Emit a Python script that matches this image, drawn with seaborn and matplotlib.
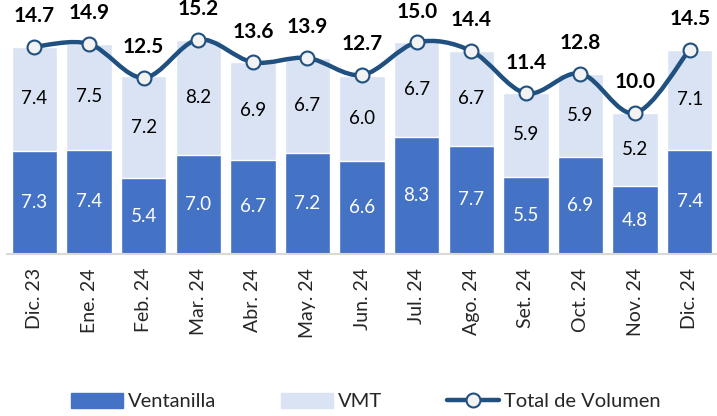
import numpy as np
import matplotlib.pyplot as plt
import seaborn as sns
import pandas as pd
from matplotlib.path import Path
from matplotlib.patches import PathPatch, Patch
from matplotlib.lines import Line2D

meses = ['Dic. 23', 'Ene. 24', 'Feb. 24', 'Mar. 24', 'Abr. 24', 'May. 24', 'Jun. 24',
         'Jul. 24', 'Ago. 24', 'Set. 24', 'Oct. 24', 'Nov. 24', 'Dic. 24']
ventanilla = [7.3, 7.4, 5.4, 7.0, 6.7, 7.2, 6.6, 8.3, 7.7, 5.5, 6.9, 4.8, 7.4]
vmt = [7.4, 7.5, 7.2, 8.2, 6.9, 6.7, 6.0, 6.7, 6.7, 5.9, 5.9, 5.2, 7.1]
total = [14.7, 14.9, 12.5, 15.2, 13.6, 13.9, 12.7, 15.0, 14.4, 11.4, 12.8, 10.0, 14.5]

C_VEN = '#4472C4'
C_VMT = '#DAE3F3'
C_TOT = '#1F5080'


def smooth_path(xs, ys):
    # excel-like smoothed line (catmull-rom as bezier segments)
    p = np.column_stack([xs, ys]).astype(float)
    ext = np.vstack([p[0], p, p[-1]])
    verts = [p[0]]
    codes = [Path.MOVETO]
    for i in range(len(p) - 1):
        p0, p1, p2, p3 = ext[i], ext[i + 1], ext[i + 2], ext[i + 3]
        verts += [p1 + (p2 - p0) / 6, p2 - (p3 - p1) / 6, p2]
        codes += [Path.CURVE4] * 3
    return Path(verts, codes)


def main():
    sns.set_theme(style='white')
    plt.rcParams['font.family'] = ['Lato', 'DejaVu Sans']

    df = pd.DataFrame({'mes': meses, 'ventanilla': ventanilla, 'vmt': vmt, 'total': total})
    df['suma'] = df['ventanilla'] + df['vmt']

    fig = plt.figure(figsize=(7.17, 4.16), dpi=100)
    ax = fig.add_axes([0.01, 0.389, 0.99, 0.592])

    sns.barplot(data=df, x='mes', y='suma', color=C_VMT, saturation=1, width=0.83, ax=ax)
    sns.barplot(data=df, x='mes', y='ventanilla', color=C_VEN, saturation=1, width=0.83, ax=ax)

    x = np.arange(len(meses))
    ax.add_patch(PathPatch(smooth_path(x, df['total']), facecolor='none',
                           edgecolor=C_TOT, lw=3.2, zorder=4, capstyle='round'))
    ax.plot(x, df['total'], linestyle='none', marker='o', markersize=10,
            markerfacecolor='#F2F2F2', markeredgecolor=C_TOT, markeredgewidth=1.5, zorder=5)

    for i in range(len(meses)):
        ax.text(i, df['ventanilla'][i] / 2, '{:.1f}'.format(df['ventanilla'][i]),
                ha='center', va='center', color='white', fontsize=13.5)
        ax.text(i, df['ventanilla'][i] + df['vmt'][i] / 2, '{:.1f}'.format(df['vmt'][i]),
                ha='center', va='center', color='black', fontsize=13.5)
        ax.annotate('{:.1f}'.format(df['total'][i]), (i, df['total'][i]),
                    xytext=(0, 22), textcoords='offset points',
                    ha='center', va='center', fontsize=15, fontweight='bold', color='black')

    ax.set_ylim(0, 17.45)
    ax.set_xlim(-0.5, len(meses) - 0.5)
    ax.set_xlabel('')
    ax.set_ylabel('')
    ax.set_yticks([])
    ax.tick_params(axis='x', labelrotation=90, labelsize=14, length=0, pad=10)
    for s in ['top', 'right', 'left']:
        ax.spines[s].set_visible(False)
    ax.spines['bottom'].set_color('#D9D9D9')
    ax.spines['bottom'].set_linewidth(1.5)

    handles = [Patch(color=C_VEN, label='Ventanilla'),
               Patch(color=C_VMT, label='VMT'),
               Line2D([0], [0], color=C_TOT, lw=3.2, marker='o', markersize=10,
                      markerfacecolor='#F2F2F2', markeredgecolor=C_TOT,
                      markeredgewidth=1.5, label='Total de Volumen')]
    fig.legend(handles=handles, loc='center', bbox_to_anchor=(0.51, 0.035), ncol=3,
               frameon=False, fontsize=14.5, handlelength=2.6, handleheight=0.8,
               handletextpad=0.25, columnspacing=3.2)

    fig.savefig('out.png', dpi=100)


if __name__ == '__main__':
    main()
